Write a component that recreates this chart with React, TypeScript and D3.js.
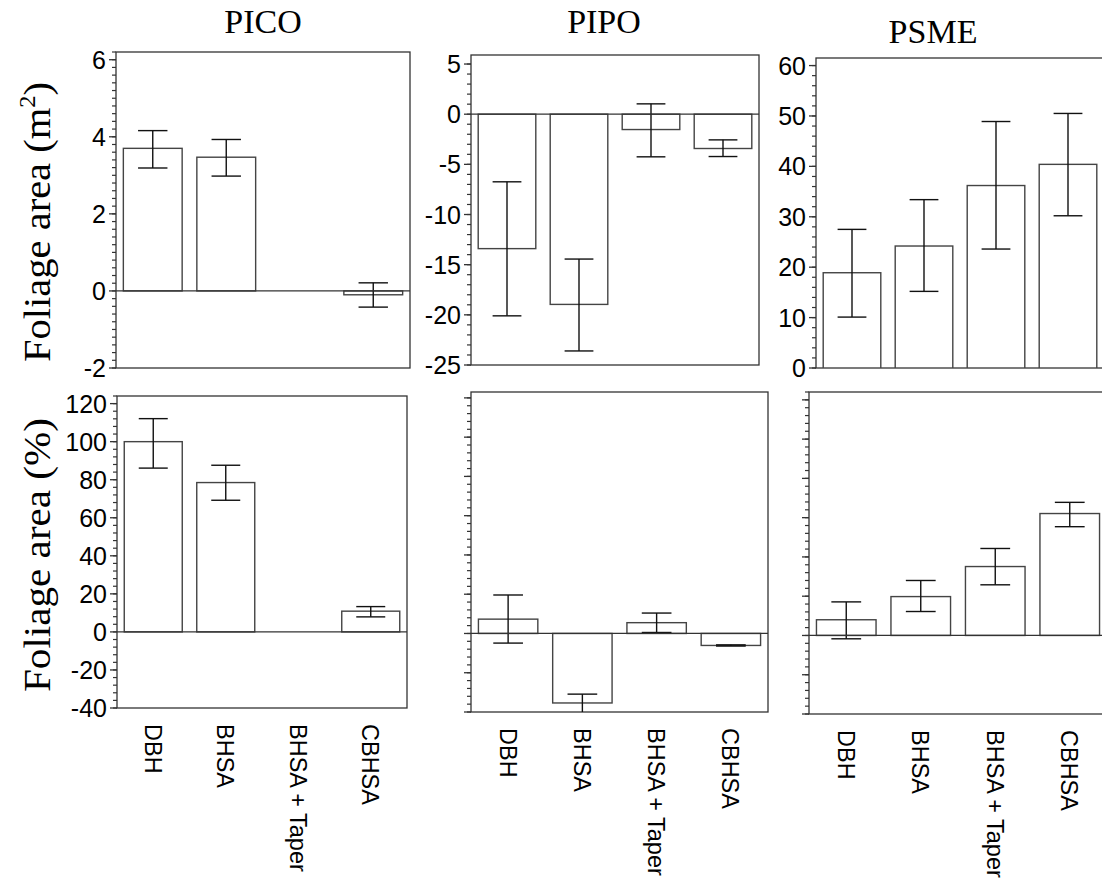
import * as d3 from "d3";

const species = ["PICO", "PIPO", "PSME"];
const methods = ["DBH", "BHSA", "BHSA + Taper", "CBHSA"];

// foliage area (m2): mean, lower and upper error bar ends
const picoAreaMean = [3.7, 3.47, null, -0.1];
const picoAreaLow = [3.19, 2.98, null, -0.42];
const picoAreaHigh = [4.16, 3.93, null, 0.21];
const pipoAreaMean = [-13.4, -18.96, -1.53, -3.42];
const pipoAreaLow = [-20.1, -23.6, -4.25, -4.22];
const pipoAreaHigh = [-6.74, -14.44, 1.03, -2.56];
const psmeAreaMean = [18.9, 24.2, 36.2, 40.4];
const psmeAreaLow = [10.1, 15.2, 23.6, 30.2];
const psmeAreaHigh = [27.5, 33.4, 48.9, 50.5];

// foliage area (%)
const picoPctMean = [100, 78.5, null, 10.9];
const picoPctLow = [86.1, 69.2, null, 7.9];
const picoPctHigh = [112.1, 87.6, null, 13.3];
const pipoPctMean = [7.3, -35.4, 5.5, -6.1];
const pipoPctLow = [-4.9, -42, 0.5, -6.4];
const pipoPctHigh = [19.6, -30.9, 10.4, -5.8];
const psmePctMean = [8.0, 19.8, 35.1, 62.1];
const psmePctLow = [-1.7, 12.2, 25.8, 55.4];
const psmePctHigh = [17.1, 28.0, 44.3, 67.8];

// y axes
const picoAreaTicks = [-2, 0, 2, 4, 6];
const pipoAreaTicks = [-25, -20, -15, -10, -5, 0, 5];
const psmeAreaTicks = [0, 10, 20, 30, 40, 50, 60];
const pctTicks = [-40, -20, 0, 20, 40, 60, 80, 100, 120];

const tickFont = "'Liberation Sans', Arial, sans-serif";
const serif = "'Liberation Serif', 'Times New Roman', serif";

type Frame = { x: number; y: number; w: number; h: number };

function Panel(props: {
  id: string;
  frame: Frame;
  domain: [number, number];
  ticks: number[];
  minor: number;
  showLabels: boolean;
  mean: (number | null)[];
  low: (number | null)[];
  high: (number | null)[];
  xLabels: boolean;
}) {
  const { id, frame, domain, ticks, minor, showLabels, mean, low, high, xLabels } = props;
  const y = d3.scaleLinear().domain(domain).range([frame.y + frame.h, frame.y]);
  const x = d3
    .scaleBand()
    .domain(methods)
    .range([frame.x, frame.x + frame.w])
    .paddingInner(0.2)
    .paddingOuter(0.1);
  const bw = x.bandwidth();
  const n = Math.floor((domain[1] - domain[0]) / minor + 1e-6);
  const minors = d3.range(0, n + 1).map((i) => +(domain[0] + i * minor).toFixed(4));

  return (
    <g>
      <defs>
        <clipPath id={id}>
          <rect x={frame.x} y={frame.y} width={frame.w} height={frame.h} />
        </clipPath>
      </defs>
      <rect x={frame.x} y={frame.y} width={frame.w} height={frame.h} fill="#fff" stroke="#333" strokeWidth={1.3} />
      {minors.map((v, i) => (
        <line key={"m" + i} x1={frame.x - 4} x2={frame.x} y1={y(v)} y2={y(v)} stroke="#333" strokeWidth={1.2} />
      ))}
      {ticks.map((v) => (
        <g key={v}>
          <line x1={frame.x - 7} x2={frame.x} y1={y(v)} y2={y(v)} stroke="#333" strokeWidth={1.3} />
          {showLabels && (
            <text x={frame.x - 10} y={y(v)} dy="0.36em" textAnchor="end" fontFamily={tickFont} fontSize={25} fill="#000">
              {String(v)}
            </text>
          )}
        </g>
      ))}
      <g clipPath={`url(#${id})`}>
        {methods.map((m, i) => {
          const v = mean[i];
          if (v === null) return null;
          const cx = (x(m) as number) + bw / 2;
          const lo = low[i] as number;
          const hi = high[i] as number;
          return (
            <g key={m}>
              <rect
                x={x(m)}
                y={Math.min(y(v), y(0))}
                width={bw}
                height={Math.abs(y(v) - y(0))}
                fill="#fff"
                stroke="#444"
                strokeWidth={1.4}
              />
              <line x1={cx} x2={cx} y1={y(lo)} y2={y(hi)} stroke="#111" strokeWidth={1.4} />
              <line x1={cx - bw / 4} x2={cx + bw / 4} y1={y(hi)} y2={y(hi)} stroke="#111" strokeWidth={1.4} />
              <line x1={cx - bw / 4} x2={cx + bw / 4} y1={y(lo)} y2={y(lo)} stroke="#111" strokeWidth={1.4} />
            </g>
          );
        })}
        {domain[0] < 0 && (
          <line x1={frame.x} x2={frame.x + frame.w} y1={y(0)} y2={y(0)} stroke="#333" strokeWidth={1.3} />
        )}
      </g>
      {xLabels &&
        methods.map((m) => (
          <text
            key={"x" + m}
            transform={`translate(${(x(m) as number) + bw / 2},${frame.y + frame.h + 16}) rotate(90)`}
            dy="0.36em"
            textAnchor="start"
            fontFamily={tickFont}
            fontSize={23.5}
            fill="#000"
          >
            {m}
          </text>
        ))}
    </g>
  );
}

export default function App() {
  const topFrames: Frame[] = [
    { x: 116, y: 52, w: 294, h: 316 },
    { x: 471, y: 55, w: 288, h: 310 },
    { x: 816, y: 58, w: 288, h: 310 },
  ];
  const botFrames: Frame[] = [
    { x: 117, y: 396, w: 290, h: 312 },
    { x: 471, y: 392, w: 297, h: 320 },
    { x: 809, y: 392, w: 298, h: 322 },
  ];
  const titlePos = [
    [263, 33],
    [604, 33],
    [933, 43],
  ];

  return (
    <svg width={1102} height={890} style={{ position: "absolute", left: 0, top: 0, background: "#fff" }}>
      <rect width={1102} height={890} fill="#fff" />
      {species.map((s, i) => (
        <text key={s} x={titlePos[i][0]} y={titlePos[i][1]} textAnchor="middle" fontFamily={serif} fontSize={34} fill="#000">
          {s}
        </text>
      ))}
      <text
        transform="translate(50,222) rotate(-90)"
        textAnchor="middle"
        fontFamily={serif}
        fontSize={38}
        fill="#000"
        textLength={280}
        lengthAdjust="spacingAndGlyphs"
      >
        Foliage area (m
        <tspan fontSize={23} dy="-15">2</tspan>
        <tspan dy="15">)</tspan>
      </text>
      <text
        transform="translate(50,555) rotate(-90)"
        textAnchor="middle"
        fontFamily={serif}
        fontSize={38}
        fill="#000"
        textLength={274}
        lengthAdjust="spacingAndGlyphs"
      >
        Foliage area (%)
      </text>

      <Panel id="c1" frame={topFrames[0]} domain={[-2, 6.2]} ticks={picoAreaTicks} minor={0.2} showLabels
        mean={picoAreaMean} low={picoAreaLow} high={picoAreaHigh} xLabels={false} />
      <Panel id="c2" frame={topFrames[1]} domain={[-25, 5.9]} ticks={pipoAreaTicks} minor={1} showLabels
        mean={pipoAreaMean} low={pipoAreaLow} high={pipoAreaHigh} xLabels={false} />
      <Panel id="c3" frame={topFrames[2]} domain={[0, 61.5]} ticks={psmeAreaTicks} minor={2} showLabels
        mean={psmeAreaMean} low={psmeAreaLow} high={psmeAreaHigh} xLabels={false} />

      <Panel id="c4" frame={botFrames[0]} domain={[-40, 124]} ticks={pctTicks} minor={4} showLabels
        mean={picoPctMean} low={picoPctLow} high={picoPctHigh} xLabels />
      <Panel id="c5" frame={botFrames[1]} domain={[-40, 123]} ticks={pctTicks} minor={4} showLabels={false}
        mean={pipoPctMean} low={pipoPctLow} high={pipoPctHigh} xLabels />
      <Panel id="c6" frame={botFrames[2]} domain={[-40, 124]} ticks={pctTicks} minor={4} showLabels={false}
        mean={psmePctMean} low={psmePctLow} high={psmePctHigh} xLabels />
    </svg>
  );
}
